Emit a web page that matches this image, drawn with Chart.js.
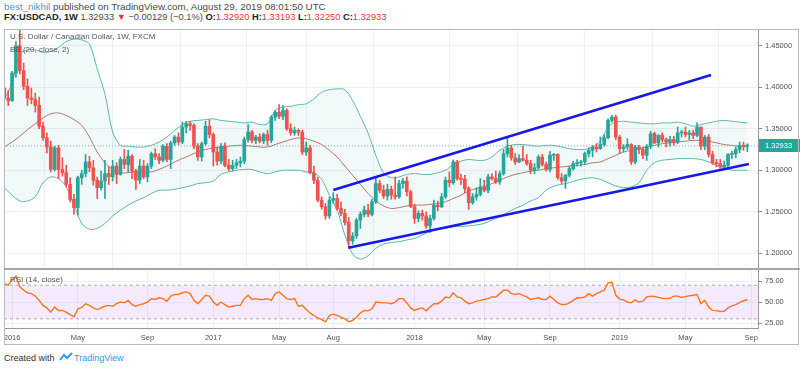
<!DOCTYPE html>
<html>
<head>
<meta charset="utf-8">
<script src="https://cdn.jsdelivr.net/npm/chart.js@4.4.0/dist/chart.umd.min.js"></script>
<style>
body { margin:0; width:800px; height:368px; background:#fff; position:relative; overflow:hidden;
       font-family:'Liberation Sans', Arial, sans-serif; color:#4a4a4a; }
.abs { position:absolute; white-space:nowrap; }
#head { left:4px; top:1px; line-height:11px; color:#4a4a4a; }
#head .l1 { font-size:9.8px; }
#head .l2 { font-size:9.3px; }
#head .user { color:#3d9ee0; }
#head b { color:#222; }
#head .r { color:#e0393e; }
.legend { left:10px; font-size:8px; color:#555; z-index:3; }
#frame { left:4px; top:29px; width:795px; height:316px; border:1px solid #b7bac1; box-sizing:border-box; z-index:4; }
#sep { left:4px; top:268px; width:796px; height:2px; background:#a3a6ae; z-index:4; }
canvas { position:absolute; }
#foot { left:4px; top:352px; font-size:9px; color:#333; }
#foot .tv { color:#2e9ee9; }
</style>
</head>
<body>
<div id="head" class="abs">
  <div class="l1"><span class="user">best_nikhil</span> published on TradingView.com, August 29, 2019 08:01:50 UTC</div>
  <div class="l2"><b>FX:USDCAD, 1W</b> 1.32933 <span class="r">&#9660;</span> &minus;0.00129 (&minus;0.1%) <b>O:</b><span class="r">1.32920</span> <b>H:</b><span class="r">1.33193</span> <b>L:</b><span class="r">1.32250</span> <b>C:</b><span class="r">1.32933</span></div>
</div>

<canvas id="main" width="796" height="239" style="left:4px;top:30px"></canvas>
<canvas id="rsi" width="796" height="75" style="left:4px;top:270px"></canvas>

<div class="abs legend" style="top:32px">U.S. Dollar / Canadian Dollar, 1W, FXCM</div>
<div class="abs legend" style="top:45px">BB (20, close, 2)</div>
<div class="abs legend" style="top:275px">RSI (14, close)</div>

<div id="frame" class="abs"></div>
<div id="sep" class="abs"></div>

<div id="foot" class="abs">Created with
  <svg width="14" height="10" viewBox="0 0 14 10" style="vertical-align:-1px;margin:0 1px 0 2px"><path d="M1 8 L5 3 L8 6 L13 1" fill="none" stroke="#2e9ee9" stroke-width="2"/></svg><span class="tv">TradingView</span>
</div>

<script>
// weekly candles, week 0 = 21 Dec 2015
const open = [
  1.3990,1.3870,1.3840,1.4170,1.4500,1.4200,1.4010,1.3870,1.3850,1.3780,
  1.3530,1.3390,1.3280,1.3010,1.3270,1.3010,1.2970,1.2830,1.2650,1.2550,
  1.2910,1.2960,1.3100,1.3030,1.2880,1.2790,1.2870,1.2960,1.2920,1.3050,
  1.2950,1.3130,1.3070,1.3170,1.2990,1.2880,1.3050,1.2920,1.3050,1.3200,
  1.3160,1.3120,1.3290,1.3130,1.3330,1.3400,1.3340,1.3520,1.3560,1.3540,
  1.3290,1.3160,1.3320,1.3530,1.3430,1.3220,1.3110,1.3290,1.3060,1.3020,
  1.3060,1.3090,1.3110,1.3370,1.3460,1.3360,1.3400,1.3350,1.3430,1.3360,
  1.3640,1.3700,1.3650,1.3720,1.3500,1.3450,1.3480,1.3460,1.3220,1.3270,
  1.2970,1.2880,1.2640,1.2560,1.2450,1.2640,1.2660,1.2540,1.2480,1.2370,
  1.2150,1.2210,1.2400,1.2470,1.2520,1.2470,1.2620,1.2840,1.2760,1.2690,
  1.2770,1.2700,1.2680,1.2840,1.2870,1.2740,1.2560,1.2420,1.2480,1.2450,
  1.2330,1.2420,1.2580,1.2560,1.2680,1.2880,1.2850,1.3100,1.2900,1.2890,
  1.2780,1.2610,1.2680,1.2710,1.2800,1.2760,1.2920,1.2900,1.2860,1.2960,
  1.3200,1.3270,1.3150,1.3100,1.3140,1.3120,1.3080,1.3000,1.3030,1.3160,
  1.3070,1.3010,1.3180,1.3190,1.2910,1.2870,1.2940,1.3020,1.3080,1.3090,
  1.3100,1.3200,1.3240,1.3280,1.3260,1.3310,1.3390,1.3600,1.3640,1.3400,
  1.3260,1.3280,1.3310,1.3100,1.3280,1.3250,1.3180,1.3290,1.3440,1.3330,
  1.3420,1.3370,1.3340,1.3370,1.3340,1.3450,1.3460,1.3430,1.3450,1.3420,
  1.3520,1.3290,1.3400,1.3190,1.3090,1.3080,1.3040,1.3060,1.3190,1.3200,
  1.3250,1.3300,1.32920
];
const high = [
  1.4005,1.3960,1.4190,1.4550,1.4690,1.4290,1.4100,1.3990,1.3930,1.3880,
  1.3580,1.3450,1.3350,1.3290,1.3300,1.3150,1.3060,1.2910,1.2710,1.2930,
  1.3000,1.3190,1.3170,1.3120,1.2920,1.2990,1.3120,1.3040,1.3120,1.3090,
  1.3160,1.3250,1.3240,1.3190,1.3010,1.3130,1.3120,1.3080,1.3220,1.3260,
  1.3200,1.3310,1.3320,1.3350,1.3420,1.3450,1.3580,1.3590,1.3590,1.3560,
  1.3320,1.3340,1.3590,1.3610,1.3450,1.3280,1.3320,1.3330,1.3130,1.3120,
  1.3130,1.3160,1.3400,1.3550,1.3480,1.3420,1.3440,1.3450,1.3480,1.3660,
  1.3720,1.3790,1.3780,1.3740,1.3560,1.3520,1.3500,1.3480,1.3340,1.3300,
  1.3050,1.2920,1.2680,1.2600,1.2680,1.2730,1.2710,1.2620,1.2530,1.2430,
  1.2250,1.2420,1.2500,1.2570,1.2590,1.2650,1.2920,1.2880,1.2820,1.2830,
  1.2810,1.2920,1.2880,1.2900,1.2920,1.2760,1.2590,1.2510,1.2520,1.2500,
  1.2460,1.2640,1.2630,1.2720,1.2920,1.2980,1.3125,1.3120,1.2950,1.2940,
  1.2800,1.2720,1.2790,1.2900,1.2880,1.2950,1.2960,1.2990,1.2990,1.3250,
  1.3386,1.3300,1.3200,1.3190,1.3290,1.3190,1.3120,1.3080,1.3180,1.3190,
  1.3100,1.3225,1.3200,1.3200,1.2960,1.2950,1.3050,1.3110,1.3130,1.3120,
  1.3220,1.3270,1.3300,1.3320,1.3400,1.3430,1.3620,1.3660,1.3665,1.3420,
  1.3310,1.3380,1.3320,1.3300,1.3300,1.3280,1.3310,1.3470,1.3460,1.3430,
  1.3450,1.3390,1.3410,1.3410,1.3520,1.3480,1.3520,1.3480,1.3480,1.3570,
  1.3520,1.3420,1.3430,1.3230,1.3130,1.3130,1.3110,1.3200,1.3230,1.3280,
  1.3340,1.3340,1.33193
];
const low = [
  1.3830,1.3780,1.3830,1.4120,1.4160,1.3970,1.3780,1.3800,1.3700,1.3500,
  1.3360,1.3210,1.2980,1.2990,1.2900,1.2930,1.2800,1.2620,1.2470,1.2460,
  1.2830,1.2920,1.2980,1.2820,1.2660,1.2760,1.2660,1.2830,1.2870,1.2840,
  1.2940,1.3020,1.2980,1.2900,1.2770,1.2840,1.2900,1.2860,1.3020,1.3130,
  1.3080,1.3100,1.3100,1.3020,1.3300,1.3310,1.3320,1.3450,1.3480,1.3260,
  1.3120,1.3110,1.3300,1.3390,1.3050,1.3060,1.3080,1.3040,1.2990,1.2990,
  1.3020,1.3040,1.3080,1.3340,1.3330,1.3320,1.3330,1.3320,1.3300,1.3330,
  1.3600,1.3620,1.3610,1.3480,1.3420,1.3420,1.3420,1.3190,1.3180,1.2960,
  1.2840,1.2620,1.2530,1.2410,1.2420,1.2600,1.2520,1.2450,1.2340,1.2062,
  1.2110,1.2180,1.2300,1.2440,1.2440,1.2450,1.2600,1.2730,1.2660,1.2640,
  1.2650,1.2650,1.2660,1.2780,1.2690,1.2550,1.2360,1.2380,1.2400,1.2300,
  1.2250,1.2400,1.2510,1.2550,1.2660,1.2800,1.2830,1.2880,1.2830,1.2730,
  1.2530,1.2590,1.2640,1.2690,1.2740,1.2730,1.2880,1.2840,1.2830,1.2940,
  1.3160,1.3120,1.3070,1.3090,1.3110,1.3060,1.2960,1.2960,1.3010,1.3050,
  1.2990,1.2980,1.3120,1.2890,1.2840,1.2780,1.2920,1.3000,1.3050,1.3050,
  1.3070,1.3160,1.3160,1.3220,1.3250,1.3290,1.3380,1.3580,1.3370,1.3200,
  1.3220,1.3250,1.3070,1.3080,1.3200,1.3140,1.3120,1.3260,1.3320,1.3280,
  1.3340,1.3280,1.3290,1.3300,1.3320,1.3400,1.3400,1.3370,1.3380,1.3400,
  1.3250,1.3250,1.3160,1.3070,1.3040,1.3020,1.3030,1.3040,1.3140,1.3150,
  1.3210,1.3240,1.32250
];
const close = [
  1.3870,1.3840,1.4170,1.4500,1.4200,1.4010,1.3870,1.3850,1.3780,1.3530,
  1.3390,1.3280,1.3010,1.3270,1.3010,1.2970,1.2830,1.2650,1.2550,1.2910,
  1.2960,1.3100,1.3030,1.2880,1.2790,1.2870,1.2960,1.2920,1.3050,1.2950,
  1.3130,1.3070,1.3170,1.2990,1.2880,1.3050,1.2920,1.3050,1.3200,1.3160,
  1.3120,1.3290,1.3130,1.3330,1.3400,1.3340,1.3520,1.3560,1.3540,1.3290,
  1.3160,1.3320,1.3530,1.3430,1.3220,1.3110,1.3290,1.3060,1.3020,1.3060,
  1.3090,1.3110,1.3370,1.3460,1.3360,1.3400,1.3350,1.3430,1.3360,1.3640,
  1.3700,1.3650,1.3720,1.3500,1.3450,1.3480,1.3460,1.3220,1.3270,1.2970,
  1.2880,1.2640,1.2560,1.2450,1.2640,1.2660,1.2540,1.2480,1.2370,1.2150,
  1.2210,1.2400,1.2470,1.2520,1.2470,1.2620,1.2840,1.2760,1.2690,1.2770,
  1.2700,1.2680,1.2840,1.2870,1.2740,1.2560,1.2420,1.2480,1.2450,1.2330,
  1.2420,1.2580,1.2560,1.2680,1.2880,1.2850,1.3100,1.2900,1.2890,1.2780,
  1.2610,1.2680,1.2710,1.2800,1.2760,1.2920,1.2900,1.2860,1.2960,1.3200,
  1.3270,1.3150,1.3100,1.3140,1.3120,1.3080,1.3000,1.3030,1.3160,1.3070,
  1.3010,1.3180,1.3190,1.2910,1.2870,1.2940,1.3020,1.3080,1.3090,1.3100,
  1.3200,1.3240,1.3280,1.3260,1.3310,1.3390,1.3600,1.3640,1.3400,1.3260,
  1.3280,1.3310,1.3100,1.3280,1.3250,1.3180,1.3290,1.3440,1.3330,1.3420,
  1.3370,1.3340,1.3370,1.3340,1.3450,1.3460,1.3430,1.3450,1.3420,1.3520,
  1.3290,1.3400,1.3190,1.3090,1.3080,1.3040,1.3060,1.3190,1.3200,1.3250,
  1.3300,1.3290,1.32933
];

// Bollinger bands (20, close, 2), read every 2nd week
const bbStep = 2;
const bbUpper = [
  1.385,1.405,1.440,1.445,1.445,1.442,1.443,1.448,1.455,1.458,
  1.457,1.452,1.422,1.392,1.346,1.330,1.329,1.328,1.328,1.330,
  1.334,1.340,1.348,1.355,1.359,1.360,1.361,1.362,1.360,1.359,
  1.358,1.357,1.358,1.355,1.356,1.372,1.376,1.377,1.379,1.380,
  1.386,1.394,1.397,1.398,1.397,1.384,1.365,1.345,1.318,1.297,
  1.291,1.292,1.295,1.296,1.295,1.295,1.297,1.300,1.307,1.311,
  1.313,1.312,1.312,1.316,1.324,1.329,1.331,1.331,1.330,1.329,
  1.330,1.330,1.328,1.326,1.325,1.325,1.328,1.335,1.352,1.358,
  1.359,1.358,1.357,1.356,1.356,1.357,1.357,1.358,1.356,1.353,
  1.355,1.357,1.359,1.360,1.359,1.358,1.357
];
const bbBasis = [
  1.328,1.334,1.341,1.349,1.356,1.363,1.368,1.369,1.366,1.361,
  1.354,1.340,1.322,1.309,1.301,1.297,1.297,1.298,1.298,1.298,
  1.301,1.305,1.310,1.314,1.318,1.322,1.325,1.327,1.328,1.329,
  1.330,1.330,1.329,1.328,1.328,1.331,1.334,1.337,1.339,1.338,
  1.335,1.331,1.324,1.316,1.305,1.294,1.283,1.272,1.263,1.257,
  1.254,1.255,1.257,1.258,1.258,1.259,1.260,1.262,1.266,1.270,
  1.275,1.278,1.280,1.284,1.288,1.292,1.295,1.297,1.299,1.300,
  1.302,1.303,1.304,1.305,1.306,1.307,1.309,1.310,1.314,1.318,
  1.322,1.324,1.326,1.328,1.330,1.332,1.333,1.334,1.335,1.336,
  1.336,1.335,1.333,1.331,1.330,1.329,1.328
];
const bbLower = [
  1.279,1.270,1.263,1.263,1.268,1.285,1.292,1.290,1.280,1.258,
  1.236,1.229,1.230,1.236,1.245,1.252,1.258,1.263,1.267,1.272,
  1.276,1.276,1.277,1.279,1.281,1.284,1.285,1.287,1.295,1.298,
  1.300,1.301,1.301,1.298,1.296,1.298,1.300,1.300,1.300,1.298,
  1.297,1.289,1.270,1.252,1.222,1.199,1.193,1.197,1.206,1.211,
  1.213,1.214,1.216,1.218,1.222,1.226,1.229,1.230,1.232,1.232,
  1.233,1.234,1.236,1.240,1.244,1.249,1.254,1.258,1.263,1.267,
  1.276,1.281,1.283,1.285,1.288,1.290,1.291,1.289,1.285,1.281,
  1.279,1.280,1.285,1.300,1.309,1.312,1.313,1.314,1.314,1.314,
  1.313,1.310,1.306,1.303,1.300,1.300,1.300
];

// RSI (14, close), weekly
const rsi = [
  72,70,76,81,68,64,61,60,57,52,
  46,43,38,44,40,40,38,35,32.5,42,
  43.5,48,46,43,41,43,45,46,45,48,
  50,49,52,47,45,47,48,50,54,53,
  55,54,51,57,59,59,61,62,60,52,
  48,53,58,57,50,46,50,47,44,45,
  46,46,54,58,53,54,53,53,54,52,
  60,62,58,54,53,54,45,46,41,37,
  34,31,29,26.5,34,35.6,34,32,30,26.5,
  28,32,37,40,39.5,42,50,49.5,49,49,
  48,50,54,54,49,43,40,42,43,39.5,
  44,48,48,51,56,55,61,56,55,51,
  48,49,51,52,53,54,56,56,60,64,
  64,60,59,60,58,56,53,54,55,53,
  53,57,53,49,47,47,49,52,55,55,
  56,60,57,60,62,64,72.8,73.5,58,53.5,
  52.5,50,49,52.5,50,51,56,57,56.5,55.5,
  54.5,54,54.5,57,57,55.5,56.5,57.5,58,59,
  48,52,44,40,39.8,38.8,39,43,45.5,46.8,
  49.5,51.5,52.7
];

// trend channel drawn on the chart: [week, price]
const channelUpper = [[85.0, 1.2762], [182.6, 1.4147]];
const channelLower = [[88.9, 1.2067], [192.4, 1.3075]];

const lastPrice = 1.32933;
const priceTicks = [1.20, 1.25, 1.30, 1.35, 1.40, 1.45];
const rsiTicks = [25, 50, 75];
const rsiBand = [30, 70];
const tickWeeks = [2, 19, 37, 54, 71, 85, 106, 124, 141, 159, 176, 193];
const tickLabels = ['2016', 'May', 'Sep', '2017', 'May', 'Aug', '2018', 'May', 'Sep', '2019', 'May', 'Sep'];

const family = "'Liberation Sans', Arial, sans-serif";
const upColor = '#26a69a';
const downColor = '#ef5350';
const gridColor = '#edf0f4';
const axisColor = '#4c525e';
const xMin = -0.08, xMax = 194.75;

const candleColors = close.map((c, i) => c >= open[i] ? upColor : downColor);
const wickData = close.map((c, i) => ({ x: i, y: [low[i], high[i]] }));
const bodyData = close.map((c, i) => ({ x: i, y: [open[i], c] }));
const bbPoints = arr => arr.map((v, k) => ({ x: k * bbStep, y: v }));
const segPoints = arr => arr.map(p => ({ x: p[0], y: p[1] }));

const weekAxis = (showLabels) => ({
  type: 'linear', min: xMin, max: xMax, offset: false, bounds: 'data',
  afterBuildTicks: s => { s.ticks = tickWeeks.map(v => ({ value: v })); },
  afterFit: s => { s.height = showLabels ? 17 : 0; s.paddingLeft = 0; s.paddingRight = 0; },
  ticks: { display: showLabels, autoSkip: false, maxRotation: 0, padding: 5,
           color: axisColor, font: { family, size: 7.5 },
           callback: v => tickLabels[tickWeeks.indexOf(v)] },
  grid: { color: gridColor, drawTicks: false },
  border: { display: showLabels, color: '#9598a1' }
});

const lastPriceTag = {
  id: 'lastPriceTag',
  afterDraw(chart) {
    const { ctx, chartArea, scales } = chart;
    const y = Math.round(scales.y.getPixelForValue(lastPrice));
    ctx.save();
    ctx.fillStyle = upColor;
    ctx.fillRect(chartArea.right + 1, y - 7, chart.width - chartArea.right - 1, 13);
    ctx.fillStyle = '#fff';
    ctx.font = '7.5px ' + family;
    ctx.textBaseline = 'middle';
    ctx.fillText(lastPrice.toFixed(5), chartArea.right + 7, y);
    ctx.restore();
  }
};

new Chart(document.getElementById('main'), {
  data: {
    datasets: [
      { type: 'line', data: bbPoints(bbUpper), borderColor: '#62b5ad', borderWidth: 1, pointRadius: 0,
        tension: 0.3, fill: '+1', backgroundColor: 'rgba(38,166,154,0.06)', order: 10 },
      { type: 'line', data: bbPoints(bbLower), borderColor: '#62b5ad', borderWidth: 1, pointRadius: 0,
        tension: 0.3, fill: false, order: 10 },
      { type: 'line', data: bbPoints(bbBasis), borderColor: 'rgba(160,90,82,0.8)', borderWidth: 1, pointRadius: 0,
        tension: 0.3, fill: false, order: 9 },
      { type: 'line', data: [{ x: xMin, y: lastPrice }, { x: xMax, y: lastPrice }], borderColor: '#6cc0b7',
        borderWidth: 1, borderDash: [1, 2], pointRadius: 0, fill: false, order: 8 },
      { type: 'bar', data: wickData, backgroundColor: candleColors, barThickness: 1, grouped: false, order: 3 },
      { type: 'bar', data: bodyData, backgroundColor: candleColors, barThickness: 3, minBarLength: 1,
        grouped: false, order: 2 },
      { type: 'line', data: segPoints(channelUpper), borderColor: '#1818e8', borderWidth: 2.5, pointRadius: 0, order: 0 },
      { type: 'line', data: segPoints(channelLower), borderColor: '#1818e8', borderWidth: 2.5, pointRadius: 0, order: 0 }
    ]
  },
  options: {
    responsive: false, animation: false, events: [],
    layout: { padding: 0 },
    plugins: { legend: { display: false }, tooltip: { enabled: false } },
    scales: {
      x: weekAxis(false),
      y: {
        position: 'right', min: 1.1811, max: 1.4689, bounds: 'data',
        afterBuildTicks: s => { s.ticks = priceTicks.map(v => ({ value: v })); },
        afterFit: s => { s.width = 42; s.paddingTop = 0; s.paddingBottom = 0; },
        ticks: { padding: 3, color: axisColor, font: { family, size: 7.5 }, callback: v => v.toFixed(5) },
        grid: { color: gridColor, tickColor: '#8a8e97', tickLength: 4 },
        border: { color: '#9598a1' }
      }
    }
  },
  plugins: [lastPriceTag]
});

new Chart(document.getElementById('rsi'), {
  data: {
    datasets: [
      { type: 'line', data: [{ x: xMin, y: rsiBand[1] }, { x: xMax, y: rsiBand[1] }], borderColor: '#a9a9b0',
        borderWidth: 1, borderDash: [3, 3], pointRadius: 0, fill: '+1', backgroundColor: 'rgba(153,21,255,0.09)', order: 5 },
      { type: 'line', data: [{ x: xMin, y: rsiBand[0] }, { x: xMax, y: rsiBand[0] }], borderColor: '#a9a9b0',
        borderWidth: 1, borderDash: [3, 3], pointRadius: 0, fill: false, order: 5 },
      { type: 'line', data: rsi.map((v, i) => ({ x: i, y: v })), borderColor: '#f5781e', borderWidth: 1.4,
        pointRadius: 0, tension: 0, fill: false, order: 1 }
    ]
  },
  options: {
    responsive: false, animation: false, events: [],
    layout: { padding: 0 },
    plugins: { legend: { display: false }, tooltip: { enabled: false } },
    scales: {
      x: weekAxis(true),
      y: {
        position: 'right', min: 19.1, max: 88.1, bounds: 'data',
        afterBuildTicks: s => { s.ticks = rsiTicks.map(v => ({ value: v })); },
        afterFit: s => { s.width = 42; s.paddingTop = 0; s.paddingBottom = 0; },
        ticks: { padding: 3, color: axisColor, font: { family, size: 7.5 }, callback: v => v.toFixed(2) },
        grid: { color: gridColor, tickColor: '#8a8e97', tickLength: 4 },
        border: { color: '#9598a1' }
      }
    }
  }
});
</script>
</body>
</html>
